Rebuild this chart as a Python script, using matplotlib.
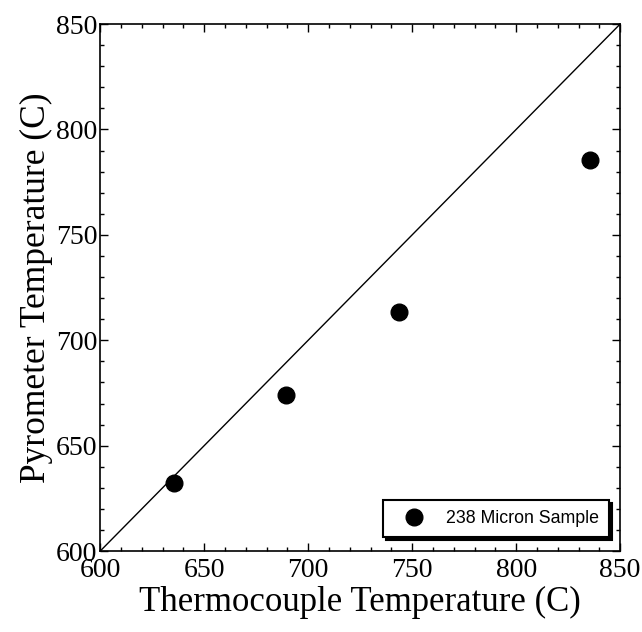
import matplotlib
matplotlib.use("Agg")
import matplotlib.pyplot as plt
from matplotlib.ticker import MultipleLocator

# Measured temperatures (deg C)
thermocouple = [635.5, 689.5, 743.8, 835.6]
pyrometer = [632.5, 674.2, 713.6, 785.4]
series_label = "238 Micron Sample"

# Reference 1:1 line
ref_line = [600, 850]

xticks = [600, 650, 700, 750, 800, 850]
yticks = [600, 650, 700, 750, 800, 850]

serif = ["Liberation Serif", "DejaVu Serif"]

fig = plt.figure(figsize=(6.42, 6.32), dpi=100)
ax = fig.add_axes([0.156, 0.128, 0.810, 0.834])

ax.plot(ref_line, ref_line, color="black", lw=1.0)
ax.plot(thermocouple, pyrometer, "o", color="black", ms=12, label=series_label)

ax.set_xlim(600, 850)
ax.set_ylim(600, 850)
ax.set_xticks(xticks)
ax.set_yticks(yticks)
ax.xaxis.set_minor_locator(MultipleLocator(10))
ax.yaxis.set_minor_locator(MultipleLocator(10))
ax.tick_params(which="both", direction="in", top=True, right=True, width=1.0)
ax.tick_params(which="major", length=6)
ax.tick_params(which="minor", length=3)
ax.tick_params(axis="both", labelsize=20)
ax.tick_params(axis="x", pad=5)
ax.tick_params(axis="y", pad=2)
for lbl in ax.get_xticklabels() + ax.get_yticklabels():
    lbl.set_family(serif)
for sp in ax.spines.values():
    sp.set_linewidth(1.2)

ax.set_xlabel("Thermocouple Temperature (C)", family=serif, fontsize=25, labelpad=2)
ax.set_ylabel("Pyrometer Temperature (C)", family=serif, fontsize=25.5, labelpad=2)

leg = ax.legend(loc="lower right", bbox_to_anchor=(0.985, 0.02), frameon=True,
                fancybox=False, shadow={"color": "black", "alpha": 1.0},
                prop={"family": ["Liberation Sans", "DejaVu Sans"], "size": 12.8},
                handletextpad=0.6, borderpad=0.55, handlelength=2.4,
                borderaxespad=0.2)
leg.get_frame().set_edgecolor("black")
leg.get_frame().set_linewidth(1.5)

fig.savefig("out.png", dpi=100)
